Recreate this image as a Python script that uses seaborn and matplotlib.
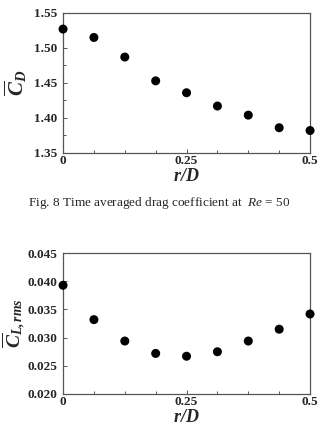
import matplotlib
matplotlib.use("Agg")
import matplotlib.pyplot as plt
import seaborn as sns
import pandas as pd
import numpy as np
from matplotlib.ticker import MultipleLocator

r_D = [0, 0.0625, 0.125, 0.1875, 0.25, 0.3125, 0.375, 0.4375, 0.5]
cd_mean = [1.527, 1.515, 1.487, 1.453, 1.436, 1.417, 1.404, 1.386, 1.382]
cl_rms = [0.0393, 0.0332, 0.0294, 0.0272, 0.0267, 0.0275, 0.0294, 0.0315, 0.0342]

x_ticks = [0, 0.25, 0.5]
x_tick_labels = ["0", "0.25", "0.5"]

sns.set_style("ticks")
plt.rcParams['font.family'] = ['Liberation Serif', 'DejaVu Serif']
plt.rcParams['mathtext.fontset'] = 'custom'
plt.rcParams['mathtext.rm'] = 'Liberation Serif'
plt.rcParams['mathtext.it'] = 'Liberation Serif:italic'
plt.rcParams['mathtext.bf'] = 'Liberation Serif:bold'
plt.rcParams['mathtext.bfit'] = 'Liberation Serif:italic:bold'

C_EIXO = "#555555"

df = pd.DataFrame({"r_D": r_D, "cd": cd_mean, "cl": cl_rms})

fig = plt.figure(figsize=(3.25, 4.32), dpi=100)
ax1 = fig.add_axes([0.194, 0.646, 0.760, 0.324])
ax2 = fig.add_axes([0.194, 0.088, 0.760, 0.326])


def estilo(ax, ylim, ystep, yfmt, yminor=None):
    ax.set_xlim(0, 0.5)
    ax.set_ylim(*ylim)
    ax.set_xticks(x_ticks)
    ax.set_xticklabels(x_tick_labels, fontweight='bold', fontsize=9.5)
    ax.xaxis.set_minor_locator(MultipleLocator(0.0625))
    if yminor:
        ax.yaxis.set_minor_locator(MultipleLocator(yminor))
    ax.set_yticks(np.round(np.arange(ylim[0], ylim[1] + ystep / 2, ystep), 4))
    ax.set_yticklabels([yfmt.format(v) for v in ax.get_yticks()], fontweight='bold', fontsize=9.5)
    ax.tick_params(which='both', direction='in', width=0.7, color=C_EIXO, pad=4)
    ax.tick_params(which='major', length=3)
    ax.tick_params(which='minor', length=2)
    ax.tick_params(axis='x', pad=1.5)
    for s in ax.spines.values():
        s.set_visible(True)
        s.set_color(C_EIXO)
        s.set_linewidth(0.9)
    ax.set_xlabel(r"$\mathbfit{r/D}$", fontsize=13, labelpad=0.5)


sns.scatterplot(data=df, x="r_D", y="cd", ax=ax1, color="black", s=42,
                edgecolor="none", clip_on=False, zorder=5, legend=False)
estilo(ax1, (1.35, 1.55), 0.05, "{:.2f}", yminor=0.025)
ax1.set_ylabel(r"$\overline{\mathbfit{C}}_{\mathbfit{D}}$", fontsize=15, labelpad=4)

sns.scatterplot(data=df, x="r_D", y="cl", ax=ax2, color="black", s=42,
                edgecolor="none", clip_on=False, zorder=5, legend=False)
estilo(ax2, (0.020, 0.045), 0.005, "{:.3f}")
ax2.set_ylabel(r"$\overline{\mathbfit{C}}_{\mathbfit{L,rms}}$", fontsize=14, labelpad=0)

fig.text(0.49, 0.530, r"Fig. 8 Time averaged drag coefficient at  $Re$ = 50",
         ha='center', va='center', fontsize=9.5)

fig.savefig("out.png", dpi=100)
plt.close(fig)
